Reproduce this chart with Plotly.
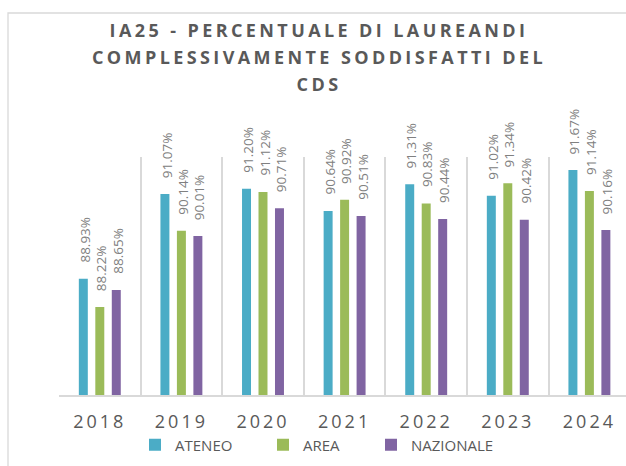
import plotly.graph_objects as go

# Survey results per academic year (share of graduating students satisfied with the degree course)
years = ["2018", "2019", "2020", "2021", "2022", "2023", "2024"]
ateneo = [88.93, 91.07, 91.20, 90.64, 91.31, 91.02, 91.67]
area = [88.22, 90.14, 91.12, 90.92, 90.83, 91.34, 91.14]
nazionale = [88.65, 90.01, 90.71, 90.51, 90.44, 90.42, 90.16]

series_names = ["ATENEO", "AREA", "NAZIONALE"]
series_values = [ateneo, area, nazionale]
series_colors = ["#4BACC6", "#9BBB59", "#8064A2"]

title_text = "IA25 - PERCENTUALE DI LAUREANDI<br>COMPLESSIVAMENTE SODDISFATTI DEL<br>CDS"

W, H = 626, 466
left, right, top, bottom = 59, 0, 157, 71
cat_px = 81.6
plot_w = W - left - right
plot_h = H - top - bottom
x_max = -0.5 + plot_w / cat_px

fig = go.Figure()
legend_ids = ["legend", "legend2", "legend3"]
for name, vals, color, lg in zip(series_names, series_values, series_colors, legend_ids):
    fig.add_trace(go.Bar(
        x=years, y=vals, name=name, legend=lg,
        marker=dict(color=color, line=dict(width=0)),
        hoverinfo="x+y+name",
    ))

# rotated value labels above each bar (x given as category index)
slot = 16.5
for i, vals in enumerate(series_values):
    for j, v in enumerate(vals):
        fig.add_annotation(
            x=j, y=v, text=f"{v:.2f}%", showarrow=False,
            textangle=-90, xanchor="center", yanchor="bottom",
            xshift=(i - 1) * slot + 1.5, yshift=14,
            font=dict(family="Open Sans", size=13.5, color="#808080"),
        )

# outer chart frame
fig.add_shape(
    type="rect", xref="paper", yref="paper", layer="above",
    x0=(8 - left) / plot_w, x1=1.2,
    y0=-0.6, y1=(H - bottom - 13) / plot_h,
    line=dict(color="#D9D9D9", width=1.3), fillcolor="rgba(0,0,0,0)",
)

legend_common = dict(
    orientation="h", xref="container", yref="container",
    yanchor="middle", xanchor="left", bgcolor="rgba(0,0,0,0)",
    font=dict(family="Open Sans", size=15, color="#595959"),
    itemwidth=30,
)
legend_x = [135, 263, 371]
legend_y = (H - 445) / H

fig.update_layout(
    width=W, height=H, showlegend=True,
    margin=dict(l=left, r=right, t=top, b=bottom, pad=0),
    paper_bgcolor="white", plot_bgcolor="white",
    barmode="group", bargap=0.394, bargroupgap=0.455,
    title=dict(
        text=title_text, x=319 / W, xanchor="center", xref="container",
        y=1 - 37 / H, yanchor="top", yref="container",
        font=dict(family="Open Sans", size=18, color="#595959", weight=700),
    ),
    xaxis=dict(
        type="category", range=[-0.5, x_max], automargin=False,
        tickson="boundaries", showgrid=True, gridcolor="#D9D9D9", gridwidth=1.5,
        showline=True, linecolor="#D9D9D9", linewidth=2,
        ticks="", ticklabelstandoff=9,
        tickfont=dict(family="Open Sans", size=18, color="#595959"),
    ),
    yaxis=dict(range=[86, 92], visible=False, automargin=False),
    legend=dict(x=legend_x[0] / W, y=legend_y, **legend_common),
    legend2=dict(x=legend_x[1] / W, y=legend_y, **legend_common),
    legend3=dict(x=legend_x[2] / W, y=legend_y, **legend_common),
)

# wider letter spacing for the title and year labels, taller title line pitch
post_js = """
var gd = document.getElementById('{plot_id}');
function spacing() {
  gd.querySelectorAll('.gtitle').forEach(function (t) {
    t.style.letterSpacing = '3.4px';
    var lines = t.querySelectorAll('tspan.line');
    if (!lines.length || t.getAttribute('data-pitch')) return;
    var d0 = parseFloat(lines[0].getAttribute('dy')) || 0;
    lines.forEach(function (s) {
      var d = parseFloat(s.getAttribute('dy')) || 0;
      s.setAttribute('dy', (d0 + (d - d0) * (1.5 / 1.3)) + 'em');
    });
    t.setAttribute('data-pitch', '1');
  });
  gd.querySelectorAll('.xtick text').forEach(function (t) {
    t.style.letterSpacing = '3px';
  });
}
spacing();
gd.on('plotly_afterplot', spacing);
"""

fig.write_html("out.html", post_script=post_js, config={"displayModeBar": False})
